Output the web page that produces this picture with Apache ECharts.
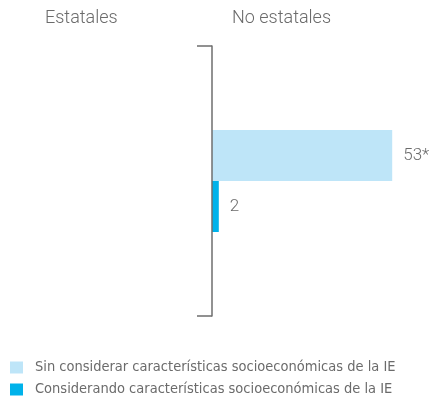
<!DOCTYPE html>
<html>
<head>
<meta charset="utf-8">
<script src="https://cdn.jsdelivr.net/npm/echarts@6/dist/echarts.min.js"></script>
<style>
  html, body { margin: 0; padding: 0; background: #fff; }
  #chart { width: 431px; height: 397px; }
</style>
</head>
<body>
<div id="chart"></div>
<script>
// Data
const categories = ['No estatales'];
const groupHeaders = ['Estatales', 'No estatales'];
const seriesNames = [
  'Sin considerar características socioeconómicas de la IE',
  'Considerando características socioeconómicas de la IE'
];
const sinConsiderar = [53];
const considerando = [2];
const valueLabels = [['53*'], ['2']];
const seriesColors = ['#bee5f8', '#00b2ea'];

const textColor = '#6b6b6b';
const legendFont = 'DejaVu Sans Condensed';
const chart = echarts.init(document.getElementById('chart'), null, { renderer: 'canvas' });

const seriesData = [sinConsiderar, considerando];

// one legend block per row so the second row may run past the bottom edge
const legendTops = [360, 382];

chart.setOption({
  animation: false,
  textStyle: { fontFamily: 'Roboto' },
  graphic: [
    { type: 'text', left: 45, top: 9, style: { text: groupHeaders[0], fill: textColor, font: '300 18px Roboto' } },
    { type: 'text', left: 232, top: 9, style: { text: groupHeaders[1], fill: textColor, font: '300 18px Roboto' } }
  ],
  grid: { left: 212, right: 15, top: 46, bottom: 81, containLabel: false },
  xAxis: {
    type: 'value', min: 0, max: 60,
    show: false
  },
  yAxis: {
    type: 'category',
    data: categories,
    inverse: true,
    z: 10,
    axisLine: { show: true, lineStyle: { color: '#6e6e6e', width: 1.5 } },
    axisTick: { show: true, length: 15, lineStyle: { color: '#6e6e6e', width: 1.5 } },
    axisLabel: { show: false }
  },
  legend: seriesNames.map((name, i) => ({
    orient: 'horizontal',
    left: 10,
    top: legendTops[i],
    padding: 0,
    itemWidth: 13,
    itemHeight: 12,
    itemGap: 10,
    icon: 'rect',
    textStyle: { color: textColor, fontSize: 14.5, fontFamily: legendFont, padding: [2, 0, 0, 7] },
    data: [name]
  })),
  series: seriesNames.map((name, i) => ({
    name: name,
    type: 'bar',
    data: seriesData[i],
    barWidth: 51,
    barGap: '0%',
    itemStyle: { color: seriesColors[i] },
    label: {
      show: true,
      position: 'right',
      distance: 11,
      color: textColor,
      fontSize: 17,
      fontFamily: 'Roboto',
      fontWeight: 300,
      formatter: p => valueLabels[i][p.dataIndex]
    }
  }))
});
</script>
</body>
</html>
